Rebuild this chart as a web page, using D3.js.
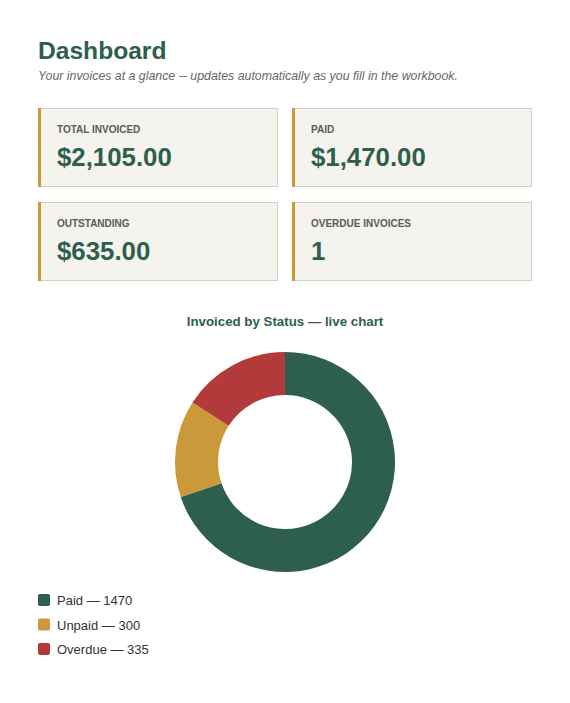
<!DOCTYPE html>
<html><head><meta charset="utf-8">
<script src="https://cdn.jsdelivr.net/npm/d3@7"></script>
<style>
html,body{margin:0;padding:0;background:#fff;}
svg{display:block;font-family:"Liberation Sans",Arial,Helvetica,sans-serif;}
</style></head>
<body><svg id="c" width="570" height="703"></svg>
<script>
const cardLabels = ["TOTAL INVOICED","PAID","OUTSTANDING","OVERDUE INVOICES"];
const cardValues = ["$2,105.00","$1,470.00","$635.00","1"];
const categories = ["Paid","Unpaid","Overdue"];
const values = [1470,300,335];
const colors = ["#2e5e4e","#c9993a","#b33a3a"];

const svg = d3.select("#c");
svg.append("text").attr("x",38).attr("y",59).attr("font-size",24.6).attr("font-weight","bold")
  .attr("fill","#2e5e4e").text("Dashboard");
svg.append("text").attr("x",38).attr("y",80).attr("font-size",12.35).attr("font-style","italic")
  .attr("fill","#666").text("Your invoices at a glance -- updates automatically as you fill in the workbook.");

const cx = d3.scaleBand().domain([0,1]).range([38,532]).paddingInner(0.055);
const cy = d3.scaleBand().domain([0,1]).range([108,281]).paddingInner(0.16);
const cards = svg.selectAll("g.card").data(cardLabels.map((l,i)=>({l,v:cardValues[i],c:i%2,r:Math.floor(i/2)})))
  .join("g").attr("transform",d=>`translate(${cx(d.c)},${cy(d.r)})`);
cards.append("rect").attr("x",0.5).attr("y",0.5).attr("width",cx.bandwidth()-1).attr("height",cy.bandwidth()-1)
  .attr("fill","#f5f3ee").attr("stroke","#d4cfc4");
cards.append("rect").attr("x",0).attr("y",0).attr("width",3).attr("height",cy.bandwidth()).attr("fill","#c9993a");
cards.append("text").attr("x",19).attr("y",25).attr("font-size",10).attr("font-weight","bold")
  .attr("fill","#5a5a5a").text(d=>d.l);
cards.append("text").attr("x",19).attr("y",58).attr("font-size",25.8).attr("font-weight","bold")
  .attr("fill","#2e5e4e").text(d=>d.v);

svg.append("text").attr("x",285).attr("y",326).attr("text-anchor","middle").attr("font-size",13.3)
  .attr("font-weight","bold").attr("fill","#2e5e4e").text("Invoiced by Status — live chart");

const pie = d3.pie().sort(null)(values);
const arc = d3.arc().innerRadius(67).outerRadius(110);
svg.append("g").attr("transform","translate(285,462)").selectAll("path").data(pie).join("path")
  .attr("d",arc).attr("fill",(d,i)=>colors[i]);

const ly = d3.scalePoint().domain(categories).range([600,649]);
const lg = svg.selectAll("g.lg").data(categories).join("g").attr("transform",d=>`translate(38,${ly(d)})`);
lg.append("rect").attr("x",0).attr("y",-6).attr("width",12).attr("height",12).attr("rx",2)
  .attr("fill",(d,i)=>colors[i]);
lg.append("text").attr("x",19).attr("y",5).attr("font-size",13).attr("fill","#333")
  .text((d,i)=>`${d} — ${values[i]}`);
</script></body></html>
